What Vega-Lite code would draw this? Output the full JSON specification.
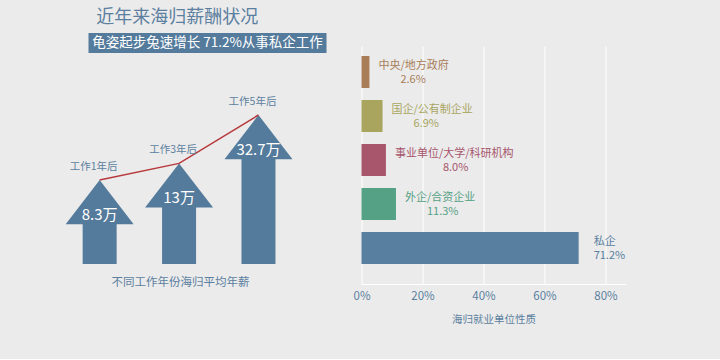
{
  "$schema": "https://vega.github.io/schema/vega-lite/v6.json",
  "background": "#ebebeb",
  "padding": {"left": 65.5, "top": 8, "right": 95, "bottom": 34},
  "config": {
    "font": "Noto Sans CJK SC",
    "view": {"stroke": null},
    "title": {"font": "Noto Sans CJK SC"},
    "axis": {"labelFont": "Noto Sans CJK SC", "titleFont": "Noto Sans CJK SC"}
  },
  "title": {
    "text": "近年来海归薪酬状况",
    "anchor": "start",
    "dx": 30.5,
    "offset": -17,
    "baseline": "bottom",
    "fontSize": 18,
    "fontWeight": "normal",
    "color": "#5b7fa0"
  },
  "spacing": 26,
  "hconcat": [
    {
      "bounds": "flush",
      "spacing": 40,
      "vconcat": [
        {
          "width": 238,
          "height": 20,
          "view": {"fill": "#557b9c", "stroke": null},
          "data": {"values": [{"subtitle": "龟姿起步兔速增长 71.2%从事私企工作"}]},
          "mark": {"type": "text", "color": "white", "fontSize": 13.5, "baseline": "middle", "align": "center"},
          "encoding": {"text": {"field": "subtitle"}}
        },
        {
          "width": 183,
          "height": 171,
          "data": {
            "values": [
              {"year": 1, "label": "工作1年后", "salary": 8.3, "salaryLabel": "8.3万"},
              {"year": 3, "label": "工作3年后", "salary": 13, "salaryLabel": "13万"},
              {"year": 5, "label": "工作5年后", "salary": 32.7, "salaryLabel": "32.7万"}
            ]
          },
          "encoding": {
            "x": {
              "field": "year",
              "type": "quantitative",
              "scale": {"domain": [0.845, 5.202], "nice": false, "zero": false},
              "axis": {
                "title": "不同工作年份海归平均年薪",
                "labels": false,
                "ticks": false,
                "domain": false,
                "grid": false,
                "titleColor": "#5b7fa0",
                "titleFontSize": 11.5,
                "titleFontWeight": "normal",
                "titlePadding": 12
              }
            },
            "y": {
              "field": "salary",
              "type": "quantitative",
              "scale": {"type": "sqrt", "domain": [-0.617, 44.6], "nice": false, "zero": false},
              "axis": null
            }
          },
          "layer": [
            {
              "mark": {"type": "bar", "size": 34, "yOffset": 42, "color": "#557b9c"},
              "encoding": {"y2": {"datum": -0.617}}
            },
            {
              "mark": {
                "type": "point",
                "shape": "M0,0L1,1.3L-1,1.3Z",
                "size": 4624,
                "filled": true,
                "opacity": 1,
                "color": "#557b9c",
                "strokeWidth": 0
              }
            },
            {
              "mark": {"type": "line", "color": "#b8393c", "strokeWidth": 1.5}
            },
            {
              "mark": {"type": "text", "color": "white", "fontSize": 15, "dy": 35, "baseline": "middle"},
              "encoding": {"text": {"field": "salaryLabel"}}
            },
            {
              "mark": {"type": "text", "color": "#5b7fa0", "fontSize": 10.5, "dy": -13, "dx": -6, "baseline": "middle"},
              "encoding": {"text": {"field": "label"}}
            }
          ]
        }
      ]
    },
    {
      "bounds": "flush",
      "spacing": 12,
      "vconcat": [
        {
          "width": 264,
          "height": 1,
          "data": {"values": [{"blank": ""}]},
          "mark": {"type": "text"},
          "encoding": {"text": {"field": "blank"}}
        },
        {
          "width": 264,
          "height": 238,
          "data": {
            "values": [
              {"sector": "中央/地方政府", "share": 0.026, "pct": "2.6%"},
              {"sector": "国企/公有制企业", "share": 0.069, "pct": "6.9%"},
              {"sector": "事业单位/大学/科研机构", "share": 0.08, "pct": "8.0%"},
              {"sector": "外企/合资企业", "share": 0.113, "pct": "11.3%"},
              {"sector": "私企", "share": 0.712, "pct": "71.2%"}
            ]
          },
          "encoding": {
            "y": {
              "field": "sector",
              "type": "nominal",
              "sort": ["中央/地方政府", "国企/公有制企业", "事业单位/大学/科研机构", "外企/合资企业", "私企"],
              "scale": {"paddingInner": 0.273, "paddingOuter": 0.341, "align": 0.333},
              "axis": null
            },
            "x": {
              "field": "share",
              "type": "quantitative",
              "scale": {"domain": [0, 0.8656], "nice": false},
              "axis": {
                "values": [0, 0.2, 0.4, 0.6, 0.8],
                "format": ".0%",
                "labelFlush": false,
                "grid": true,
                "gridColor": "#ffffff",
                "gridWidth": 1,
                "gridOpacity": 1,
                "domain": true,
                "domainColor": "#ffffff",
                "domainWidth": 1,
                "ticks": false,
                "labelColor": "#5b7fa0",
                "labelFontSize": 11.5,
                "labelPadding": 6,
                "title": "海归就业单位性质",
                "titleColor": "#5b7fa0",
                "titleFontSize": 10.5,
                "titleFontWeight": "normal",
                "titlePadding": 13
              }
            },
            "color": {
              "field": "sector",
              "type": "nominal",
              "scale": {
                "domain": ["中央/地方政府", "国企/公有制企业", "事业单位/大学/科研机构", "外企/合资企业", "私企"],
                "range": ["#a87d58", "#a9a55e", "#a7566b", "#55a185", "#587ea0"]
              },
              "legend": null
            }
          },
          "layer": [
            {"mark": {"type": "bar", "opacity": 1}},
            {
              "transform": [{"filter": "datum.sector !== '私企'"}],
              "mark": {"type": "text", "align": "left", "baseline": "middle", "dx": 9, "dy": -6, "fontSize": 11},
              "encoding": {"text": {"field": "sector"}}
            },
            {
              "transform": [{"filter": "datum.sector === '中央/地方政府' || datum.sector === '国企/公有制企业' || datum.sector === '外企/合资企业'"}],
              "mark": {"type": "text", "align": "left", "baseline": "middle", "dx": 31, "dy": 8, "fontSize": 11},
              "encoding": {"text": {"field": "pct"}}
            },
            {
              "transform": [{"filter": "datum.sector === '事业单位/大学/科研机构'"}],
              "mark": {"type": "text", "align": "left", "baseline": "middle", "dx": 57, "dy": 8, "fontSize": 11},
              "encoding": {"text": {"field": "pct"}}
            },
            {
              "transform": [{"filter": "datum.sector === '私企'"}],
              "mark": {"type": "text", "align": "left", "baseline": "middle", "dx": 15, "dy": -6, "fontSize": 11},
              "encoding": {"text": {"field": "sector"}}
            },
            {
              "transform": [{"filter": "datum.sector === '私企'"}],
              "mark": {"type": "text", "align": "left", "baseline": "middle", "dx": 15, "dy": 8, "fontSize": 11},
              "encoding": {"text": {"field": "pct"}}
            }
          ]
        }
      ]
    }
  ]
}
